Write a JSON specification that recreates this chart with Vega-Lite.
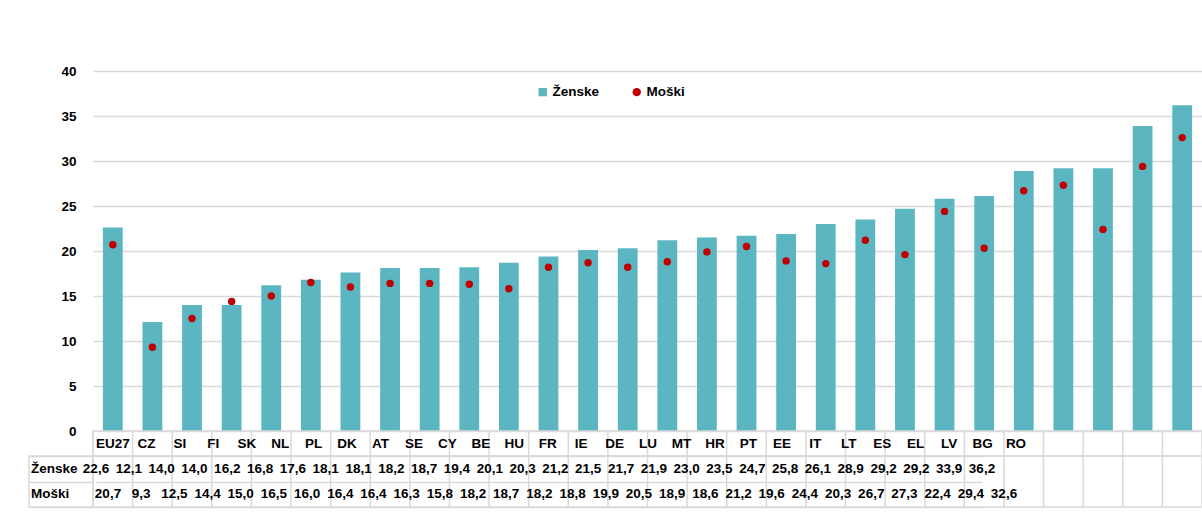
{
  "$schema": "https://vega.github.io/schema/vega-lite/v6.json",
  "padding": {"left": 28, "top": 64, "right": 0, "bottom": 0},
  "background": "white",
  "datasets": {
    "d": [
      {"c": "EU27", "z": 22.6, "m": 20.7},
      {"c": "CZ", "z": 12.1, "m": 9.3},
      {"c": "SI", "z": 14.0, "m": 12.5},
      {"c": "FI", "z": 14.0, "m": 14.4},
      {"c": "SK", "z": 16.2, "m": 15.0},
      {"c": "NL", "z": 16.8, "m": 16.5},
      {"c": "PL", "z": 17.6, "m": 16.0},
      {"c": "DK", "z": 18.1, "m": 16.4},
      {"c": "AT", "z": 18.1, "m": 16.4},
      {"c": "SE", "z": 18.2, "m": 16.3},
      {"c": "CY", "z": 18.7, "m": 15.8},
      {"c": "BE", "z": 19.4, "m": 18.2},
      {"c": "HU", "z": 20.1, "m": 18.7},
      {"c": "FR", "z": 20.3, "m": 18.2},
      {"c": "IE", "z": 21.2, "m": 18.8},
      {"c": "DE", "z": 21.5, "m": 19.9},
      {"c": "LU", "z": 21.7, "m": 20.5},
      {"c": "MT", "z": 21.9, "m": 18.9},
      {"c": "HR", "z": 23.0, "m": 18.6},
      {"c": "PT", "z": 23.5, "m": 21.2},
      {"c": "EE", "z": 24.7, "m": 19.6},
      {"c": "IT", "z": 25.8, "m": 24.4},
      {"c": "LT", "z": 26.1, "m": 20.3},
      {"c": "ES", "z": 28.9, "m": 26.7},
      {"c": "EL", "z": 29.2, "m": 27.3},
      {"c": "LV", "z": 29.2, "m": 22.4},
      {"c": "BG", "z": 33.9, "m": 29.4},
      {"c": "RO", "z": 36.2, "m": 32.6}
    ]
  },
  "data": {"name": "d"},
  "columns": 2,
  "spacing": 0,
  "bounds": "flush",
  "config": {
    "font": "Liberation Sans",
    "locale": {"number": {"decimal": ",", "thousands": ".", "grouping": [3], "currency": ["", " €"]}},
    "view": {"stroke": null},
    "axis": {"labelFont": "Liberation Sans", "labelFontWeight": "bold", "labelFontSize": 13.5, "labelColor": "#000000"},
    "text": {"font": "Liberation Sans", "fontWeight": "bold", "fontSize": 13.5, "color": "#000000"},
    "legend": {"labelFont": "Liberation Sans", "labelFontWeight": "bold", "labelFontSize": 13.5, "labelColor": "#000000", "symbolSize": 70, "symbolStrokeWidth": 0, "labelOffset": 3, "columnPadding": 30}
  },
  "concat": [
    {"width": 64, "height": 360, "data": {"values": []}, "mark": "text", "encoding": {}},
    {
      "width": 1109,
      "height": 360,
      "encoding": {
        "x": {"field": "c", "type": "nominal", "sort": null, "scale": {"paddingInner": 0.5, "paddingOuter": 0.25}, "axis": null}
      },
      "layer": [
        {
          "mark": {"type": "bar"},
          "encoding": {
            "y": {"field": "z", "type": "quantitative", "scale": {"domain": [0, 40], "nice": false},
              "axis": {"values": [0, 5, 10, 15, 20, 25, 30, 35, 40], "grid": true, "gridColor": "#d9d9d9", "gridWidth": 1.5, "domain": false, "ticks": false, "labelPadding": 17, "title": null}},
            "color": {"datum": "Ženske", "type": "nominal", "scale": {"domain": ["Ženske", "Moški"], "range": ["#5BB6C1", "#C00000"]},
              "legend": {"title": null, "orient": "none", "direction": "horizontal", "legendX": 507, "legendY": 14}}
          }
        },
        {
          "mark": {"type": "point", "filled": true, "size": 55, "opacity": 1},
          "encoding": {
            "y": {"field": "m", "type": "quantitative"},
            "color": {"datum": "Moški", "type": "nominal"},
            "shape": {"datum": "Moški", "type": "nominal", "scale": {"domain": ["Ženske", "Moški"], "range": ["square", "circle"]},
              "legend": {"title": null, "orient": "none", "direction": "horizontal", "legendX": 507, "legendY": 14}}
          }
        }
      ]
    },
    {"width": 64, "height": 25, "data": {"values": []}, "mark": "text", "encoding": {}},
    {
      "width": 1109,
      "height": 25,
      "view": {"stroke": "#d9d9d9", "strokeWidth": 1.5},
      "layer": [
        {
          "mark": {"type": "rule", "color": "#d9d9d9", "strokeWidth": 1.5},
          "encoding": {"x": {"field": "c", "type": "nominal", "sort": null, "bandPosition": 0, "scale": {"type": "band", "paddingInner": 0, "paddingOuter": 0}, "axis": null}}
        },
        {
          "mark": {"type": "text"},
          "encoding": {
            "x": {"field": "c", "type": "nominal", "sort": null, "scale": {"type": "point", "padding": 0, "range": [20, 923]}, "axis": null},
            "text": {"field": "c"}
          }
        }
      ],
      "resolve": {"scale": {"x": "independent"}}
    },
    {
      "width": 64,
      "height": 51,
      "view": {"stroke": "#d9d9d9", "strokeWidth": 1.5},
      "data": {"values": [{"r": "Ženske"}, {"r": "Moški"}]},
      "mark": {"type": "text", "align": "left", "dx": -30},
      "encoding": {
        "y": {"field": "r", "type": "nominal", "sort": null, "scale": {"type": "band", "paddingInner": 0, "paddingOuter": 0},
          "axis": {"labels": false, "ticks": false, "domain": false, "grid": true, "tickBand": "extent", "gridColor": "#d9d9d9", "gridWidth": 1.5, "title": null}},
        "text": {"field": "r"}
      }
    },
    {
      "width": 1109,
      "height": 51,
      "view": {"stroke": "#d9d9d9", "strokeWidth": 1.5},
      "layer": [
        {
          "mark": {"type": "rule", "color": "#d9d9d9", "strokeWidth": 1.5},
          "encoding": {"x": {"field": "c", "type": "nominal", "sort": null, "bandPosition": 0, "scale": {"type": "band", "paddingInner": 0, "paddingOuter": 0}, "axis": null}}
        },
        {
          "mark": {"type": "text"},
          "encoding": {
            "x": {"field": "c", "type": "nominal", "sort": null, "scale": {"type": "point", "padding": 0, "range": [3, 889]}, "axis": null},
            "y": {"datum": "Ženske", "type": "nominal", "scale": {"type": "band", "domain": ["Ženske", "Moški"], "paddingInner": 0, "paddingOuter": 0},
              "axis": {"labels": false, "ticks": false, "domain": false, "grid": true, "tickBand": "extent", "gridColor": "#d9d9d9", "gridWidth": 1.5, "title": null}},
            "text": {"field": "z", "format": ".1f"}
          }
        },
        {
          "mark": {"type": "text"},
          "encoding": {
            "x": {"field": "c", "type": "nominal", "sort": null, "scale": {"type": "point", "padding": 0, "range": [15, 911]}, "axis": null},
            "y": {"datum": "Moški", "type": "nominal"},
            "text": {"field": "m", "format": ".1f"}
          }
        }
      ],
      "resolve": {"scale": {"x": "independent"}}
    }
  ]
}
